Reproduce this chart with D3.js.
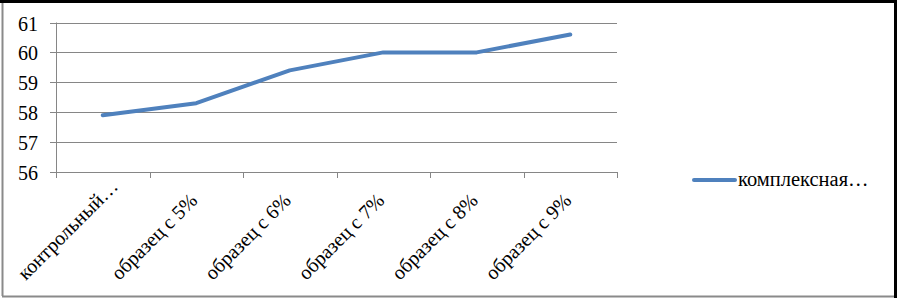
<!DOCTYPE html>
<html>
<head>
<meta charset="utf-8">
<script src="https://cdn.jsdelivr.net/npm/d3@7"></script>
<style>
  body { margin: 0; background: #fff; font-family: 'Liberation Serif', 'Times New Roman', serif; }
  svg text { font-family: 'Liberation Serif', 'Times New Roman' !important; }
</style>
</head>
<body>
<script>
const categories = ['контрольный…', 'образец с 5%', 'образец с 6%', 'образец с 7%', 'образец с 8%', 'образец с 9%'];
const values = [57.9, 58.3, 59.4, 60.0, 60.0, 60.6];
const yTicks = [56, 57, 58, 59, 60, 61];
const seriesName = 'комплексная…';

const width = 897, height = 298;
const margin = {top: 22.5, left: 56, right: 280, bottom: 126};

const svg = d3.select('body').append('svg')
    .attr('width', width)
    .attr('height', height)
    .attr('font-family', "'Liberation Serif', 'Times New Roman'");

// frame
svg.append('rect').attr('x', 0).attr('y', 0).attr('width', width).attr('height', height).attr('fill', '#fff');
svg.append('line').attr('x1', 2.5).attr('x2', 2.5).attr('y1', 2).attr('y2', 296).attr('stroke', '#8a8a8a').attr('stroke-width', 2);
svg.append('line').attr('x1', 2).attr('x2', 895).attr('y1', 296.5).attr('y2', 296.5).attr('stroke', '#8a8a8a').attr('stroke-width', 2);
svg.append('line').attr('x1', 0).attr('x2', 897).attr('y1', 1.5).attr('y2', 1.5).attr('stroke', '#000').attr('stroke-width', 3);
svg.append('line').attr('x1', 895.5).attr('x2', 895.5).attr('y1', 0).attr('y2', 298).attr('stroke', '#000').attr('stroke-width', 3);

const x = d3.scaleBand()
    .domain(categories)
    .range([margin.left, width - margin.right]);

const y = d3.scaleLinear()
    .domain([56, 61])
    .range([height - margin.bottom, margin.top]);

// gridlines
svg.append('g')
  .selectAll('line')
  .data(yTicks)
  .join('line')
    .attr('x1', margin.left - 6)
    .attr('x2', width - margin.right)
    .attr('y1', d => Math.round(y(d)) + 0.5)
    .attr('y2', d => Math.round(y(d)) + 0.5)
    .attr('stroke', '#868686')
    .attr('stroke-width', 1);

// y axis line
svg.append('line')
    .attr('x1', margin.left + 0.5).attr('x2', margin.left + 0.5)
    .attr('y1', margin.top).attr('y2', height - margin.bottom + 5)
    .attr('stroke', '#868686');

// y labels
svg.append('g')
  .selectAll('text')
  .data(yTicks)
  .join('text')
    .attr('x', 38)
    .attr('y', d => y(d))
    .attr('dy', '0.4em')
    .attr('text-anchor', 'end')
    .attr('font-family', 'Liberation Serif')
    .attr('font-size', 20)
    .attr('fill', '#000')
    .text(d => d);

// x ticks
const tickPos = categories.map(c => x(c)).concat([x.range()[1]]);
svg.append('g')
  .selectAll('line')
  .data(tickPos)
  .join('line')
    .attr('x1', d => Math.round(d) + 0.5)
    .attr('x2', d => Math.round(d) + 0.5)
    .attr('y1', y(56))
    .attr('y2', y(56) + 6)
    .attr('stroke', '#868686');

// x labels, anchored at their start like the original
svg.append('g')
  .selectAll('text')
  .data(categories)
  .join('text')
    .attr('transform', d => `translate(${x(d) + x.bandwidth() / 2 - 77},281) rotate(-45)`)
    .attr('text-anchor', 'start')
    .attr('font-family', 'Liberation Serif')
    .attr('font-size', 20)
    .attr('fill', '#000')
    .text(d => d);

// line
const line = d3.line()
    .x((d, i) => x(categories[i]) + x.bandwidth() / 2)
    .y(d => y(d));

svg.append('path')
    .datum(values)
    .attr('fill', 'none')
    .attr('stroke', '#4f81bd')
    .attr('stroke-width', 4)
    .attr('stroke-linecap', 'round')
    .attr('stroke-linejoin', 'round')
    .attr('d', line);

// legend
const legend = svg.append('g').attr('transform', 'translate(694,180)');
legend.append('line')
    .attr('x1', 0).attr('x2', 41)
    .attr('y1', 0).attr('y2', 0)
    .attr('stroke', '#4f81bd')
    .attr('stroke-width', 4)
    .attr('stroke-linecap', 'round');
legend.append('text')
    .attr('x', 44)
    .attr('y', 0)
    .attr('dy', '0.3em')
    .attr('font-family', 'Liberation Serif')
    .attr('font-size', 20.5)
    .attr('fill', '#000')
    .text(seriesName);
</script>
</body>
</html>
